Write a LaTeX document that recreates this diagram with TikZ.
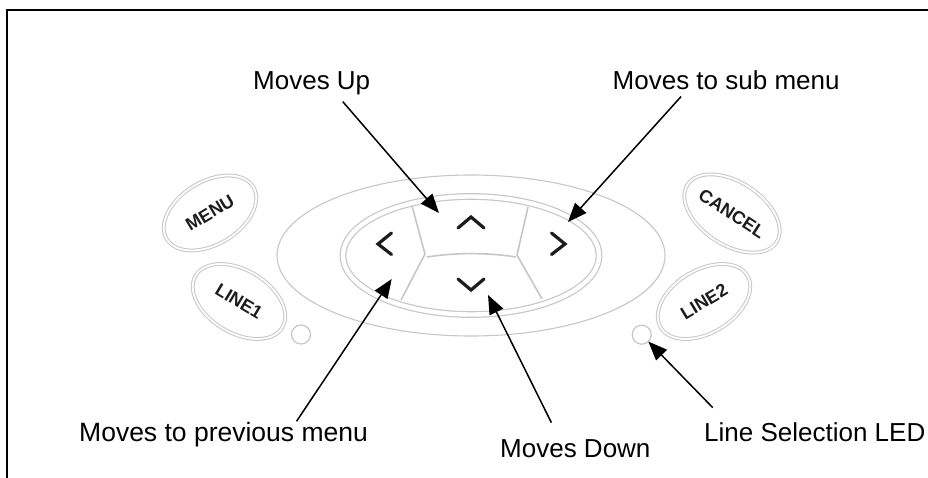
\documentclass[tikz,border=0pt]{standalone}
\usepackage{fontspec}
\setmainfont{Liberation Sans}
\usetikzlibrary{shapes.geometric,arrows.meta}
\definecolor{ringgray}{HTML}{C6C6C6}
\definecolor{inkblack}{HTML}{1C1C1C}
\tikzset{
  lbl/.style={inner sep=0pt,anchor=base west,font=\fontsize{26}{26}\selectfont},
  arr/.style={line width=1.5pt,-{Triangle[length=19pt,width=15pt]},shorten <=0pt},
  body/.style={ellipse,draw=ringgray,line width=1.1pt,inner sep=0pt,outer sep=0pt},
  ring/.style={ellipse,draw=ringgray,line width=1.2pt,double=white,double distance=4.4pt,inner sep=0pt,outer sep=0pt},
  btn/.style={ellipse,draw=ringgray,line width=1pt,double=white,double distance=1.8pt,inner sep=0pt,outer sep=0pt,
    minimum width=101pt,minimum height=63pt,text=inkblack,font=\fontsize{18}{18}\selectfont\bfseries},
  led/.style={circle,draw=ringgray,line width=1.2pt,minimum size=19pt,inner sep=0pt,outer sep=0pt},
  divider/.style={draw=ringgray,line width=1.6pt},
  chev/.style={draw=inkblack,line width=3.2pt,line cap=round,line join=miter},
  frameline/.style={draw=black,line width=2.8pt}
}
\begin{document}
\begin{tikzpicture}[x=1pt,y=-1pt]
\useasboundingbox (0,0) rectangle (928,478);
\coordinate (fBL) at (7,478);
\coordinate (fTL) at (7,10);
\coordinate (fTR) at (928,10);
\draw[frameline] (fBL) -- (fTL) -- (fTR);

\node[body,minimum width=388pt,minimum height=161pt] (outer) at (471,255.5) {};
\node[ring,minimum width=256pt,minimum height=118pt] (inner) at (471,255.5) {};

\coordinate (dUL) at (412,206);
\coordinate (dULm) at (425,254);
\coordinate (dLL) at (401,300);
\coordinate (dUR) at (528,207);
\coordinate (dURm) at (517,255);
\coordinate (dLR) at (542,299);
\coordinate (dCL) at (427,257);
\coordinate (dCR) at (516,257);
\draw[divider] (dUL) -- (dULm);
\draw[divider] (dLL) -- (dULm);
\draw[divider] (dUR) -- (dURm);
\draw[divider] (dLR) -- (dURm);
\draw[divider] (dCL) .. controls (455,252.5) and (488,252.5) .. (dCR);

\coordinate (cU1) at (458,228); \coordinate (cU2) at (471,217); \coordinate (cU3) at (484,228);
\coordinate (cD1) at (458,279); \coordinate (cD2) at (471,290); \coordinate (cD3) at (484,279);
\coordinate (cL1) at (391.5,233); \coordinate (cL2) at (378,244); \coordinate (cL3) at (391.5,254.5);
\coordinate (cR1) at (551.5,233); \coordinate (cR2) at (565,244); \coordinate (cR3) at (551.5,254.5);
\draw[chev] (cU1) -- (cU2) -- (cU3);
\draw[chev] (cD1) -- (cD2) -- (cD3);
\draw[chev] (cL1) -- (cL2) -- (cL3);
\draw[chev] (cR1) -- (cR2) -- (cR3);

\node[btn,rotate=31] (menu) at (210,213) {MENU};
\node[btn,rotate=-31] (lineone) at (239,301.5) {LINE1};
\node[btn,rotate=-33] (cancel) at (732,213.5) {CANCEL};
\node[btn,rotate=31] (linetwo) at (704,301.5) {LINE2};
\node[led] (ledL) at (301,334.5) {};
\node[led] (ledR) at (641.7,334.7) {};

\node[lbl] (lUp) at (253,90) {Moves Up};
\node[lbl] (lSub) at (612.5,90) {Moves to sub menu};
\node[lbl,font=\fontsize{26.5}{26.5}\selectfont] (lPrev) at (79,441.7) {Moves to previous menu};
\node[lbl] (lDown) at (500,457.7) {Moves Down};
\node[lbl] (lLed) at (704,441.7) {Line Selection LED};

\coordinate (tUp) at (439,213);
\coordinate (tSub) at (568,222);
\coordinate (tPrev) at (391.7,279);
\coordinate (tDown) at (488,295);

\draw[arr] ([shift={(31,6)}]lUp.south) -- (tUp);
\draw[arr] ([shift={(-45,6)}]lSub.south) -- (tSub);
\draw[arr] ([shift={(73,-1)}]lPrev.north) -- (tPrev);
\draw[arr] ([shift={(-24,-17)}]lDown.north) -- (tDown);
\draw[arr] ([shift={(-102,-15)}]lLed.north) -- (ledR);
\end{tikzpicture}
\end{document}
